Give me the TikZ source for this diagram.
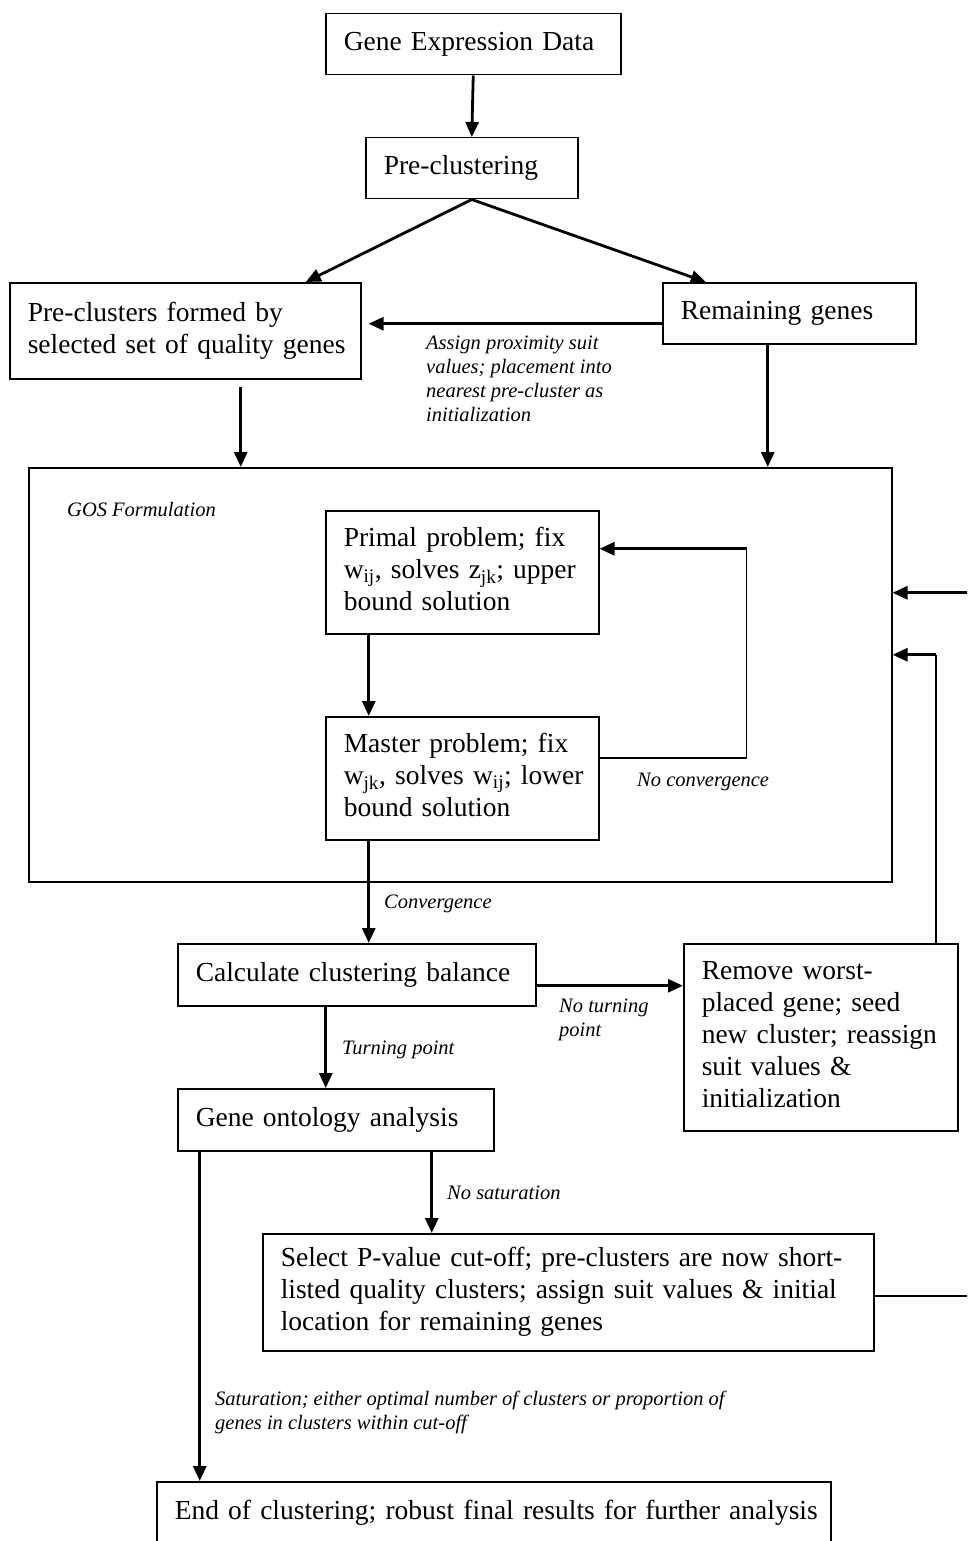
\documentclass[tikz,border=0pt]{standalone}
\usepackage{fontspec}
\setmainfont{Liberation Serif}
\usetikzlibrary{arrows.meta}
\newcommand{\bx}[1]{\begin{tabular}{@{}l@{}}#1\end{tabular}}
\newcommand{\boxfont}{\fontsize{27.5}{32}\selectfont}
\newcommand{\labfont}{\fontsize{20.5}{24}\selectfont\itshape}
\tikzset{
  stepbox/.style={draw, line width=1.5pt, anchor=north west, inner xsep=18pt, inner ysep=0pt, align=left, font=\boxfont},
  lab/.style={inner sep=0pt, align=left, font=\labfont},
  arr/.style={line width=2.8pt, -{Triangle[length=15pt,width=13pt]}},
  thin/.style={line width=1.5pt}
}
\begin{document}
\begin{tikzpicture}[x=1pt,y=-1pt]
\useasboundingbox (0,0) rectangle (967,1541);
\clip (0,0) rectangle (967,1541);
\fill[white] (0,0) rectangle (967,1541);

% boxes
\node[stepbox, text width=259pt, minimum height=61pt] (ged) at (325,13) {\bx{Gene Expression Data}};
\node[stepbox, text width=176pt, minimum height=61pt] (pre) at (365,137) {\bx{Pre-clustering}};
\node[stepbox, text width=315pt, minimum height=96pt] (pc) at (9,282) {\bx{Pre-clusters formed by\\selected set of quality genes}};
\node[stepbox, text width=217pt, minimum height=61pt] (rem) at (662,282) {\bx{Remaining genes}};
\node[draw, line width=1.5pt, anchor=north west, minimum width=863pt, minimum height=414pt, inner sep=0pt] (gos) at (28,467) {};
\node[stepbox, text width=237pt, minimum height=123pt] (prim) at (325,510) {\bx{Primal problem; fix\\w\textsubscript{ij}, solves z\textsubscript{jk}; upper\\bound solution}};
\node[stepbox, text width=237pt, minimum height=123pt] (mast) at (325,716) {\bx{Master problem; fix\\w\textsubscript{jk}, solves w\textsubscript{ij}; lower\\bound solution}};
\node[stepbox, text width=322pt, minimum height=62pt] (calc) at (177,943) {\bx{Calculate clustering balance}};
\node[stepbox, text width=238pt, minimum height=187pt] (rmv) at (683,943) {\bx{Remove worst-\\placed gene; seed\\new cluster; reassign\\suit values \&\\initialization}};
\node[stepbox, text width=280pt, minimum height=62pt] (go) at (177,1088) {\bx{Gene ontology analysis}};
\node[stepbox, text width=575pt, minimum height=117pt] (sel) at (262,1233) {\bx{Select P-value cut-off; pre-clusters are now short-\\listed quality clusters; assign suit values \& initial\\location for remaining genes}};
\node[stepbox, text width=638pt, minimum height=62pt] (end) at (156,1481) {\bx{End of clustering; robust final results for further analysis}};

% labels
\node[lab, anchor=north west] (l1) at (426,336) {Assign proximity suit\\values; placement into\\nearest pre-cluster as\\initialization};
\node[lab, anchor=base west] (l2) at (67,516) {GOS Formulation};
\node[lab, anchor=base west] (l3) at (637,786) {No convergence};
\node[lab, anchor=base west] (l4) at (384,908) {Convergence};
\node[lab, anchor=north west] (l5) at (559,999) {No turning\\point};
\node[lab, anchor=base west] (l6) at (342,1054) {Turning point};
\node[lab, anchor=base west] (l7) at (447,1199) {No saturation};
\node[lab, anchor=north west] (l8) at (215,1391) {Saturation; either optimal number of clusters or proportion of\\genes in clusters within cut-off};

% connectors
\draw[arr] (ged.south) -- (pre.north);
\draw[arr] (pre.south) -- ([xshift=120.5pt]pc.north);
\draw[arr] (pre.south) -- ([xshift=-83.5pt]rem.north);

\coordinate (c1) at ([yshift=-10.5pt]rem.west);
\draw[arr, shorten >=7pt] (c1) -- (c1 -| pc.east);

\coordinate (c2) at ([xshift=55.5pt]pc.south);
\draw[arr, shorten <=7pt] (c2) -- (c2 |- gos.north);
\coordinate (c3) at ([xshift=-21.5pt]rem.south);
\draw[arr] (c3) -- (c3 |- gos.north);

\coordinate (c4) at ([xshift=-93.5pt]prim.south);
\draw[arr] (c4) -- (c4 |- mast.north);

\coordinate (c5) at ([yshift=20.5pt]mast.east);
\coordinate (c6) at ([yshift=23.5pt]prim.east);
\coordinate (c7) at ([xshift=147pt]c5);
\draw[thin] (c5) -- (c7) -- (c7 |- c6);
\draw[arr] (c7 |- c6) -- (c6);

\coordinate (c8) at ([xshift=-93.5pt]mast.south);
\draw[arr] (c8) -- (c8 |- calc.north);

\coordinate (c9) at ([yshift=-11pt]calc.east);
\draw[arr] (c9) -- (c9 -| rmv.west);

\coordinate (c10) at ([xshift=115pt]rmv.north);
\coordinate (c11) at ([yshift=20pt]gos.east);
\draw[thin] (c10) -- (c10 |- c11);
\draw[arr] (c10 |- c11) -- (c11);

\coordinate (c12) at ([xshift=-31pt]calc.south);
\draw[arr] (c12) -- (c12 |- go.north);

\coordinate (c13) at ([xshift=96pt]go.south);
\draw[arr] (c13) -- (c13 |- sel.north);

\coordinate (c14) at ([xshift=-136pt]go.south);
\draw[arr] (c14) -- (c14 |- end.north);

\coordinate (c15) at ([yshift=-3.5pt]sel.east);
\coordinate (c16) at ([xshift=140pt]c15);
\coordinate (c17) at ([yshift=82pt]gos.east);
\draw[thin] (c15) -- (c16) -- (c16 |- c17);
\draw[arr] (c16 |- c17) -- (c17);
\end{tikzpicture}
\end{document}
